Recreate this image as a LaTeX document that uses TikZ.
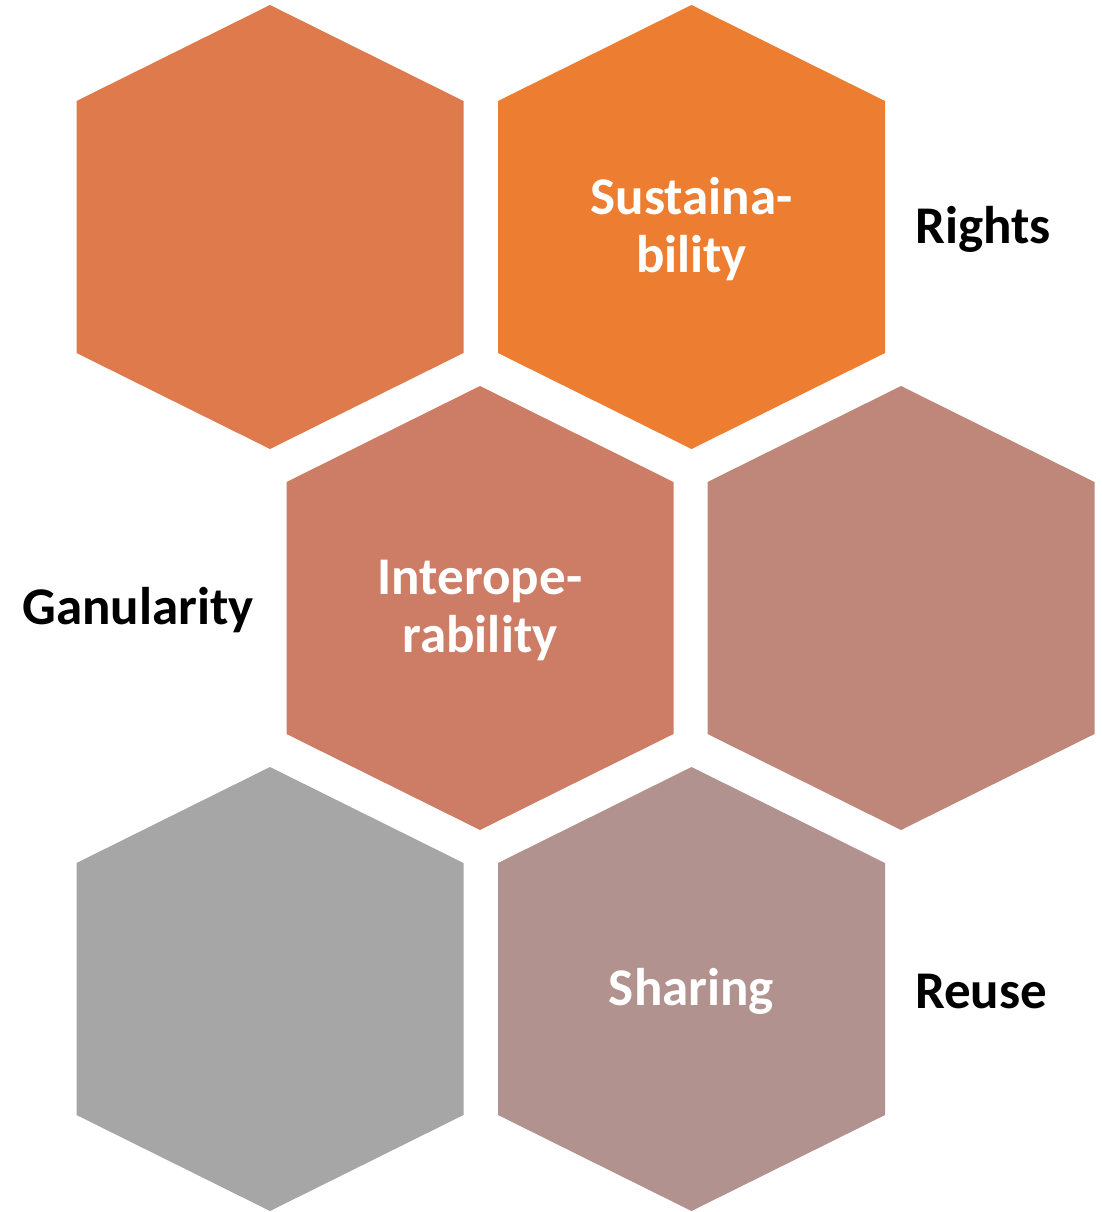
\documentclass[tikz,border=0pt]{standalone}
\usepackage{fontspec}
\setmainfont{Carlito}
\definecolor{hexA}{HTML}{DE7A4B}
\definecolor{hexB}{HTML}{ED7D31}
\definecolor{hexC}{HTML}{CD7D65}
\definecolor{hexD}{HTML}{BE877A}
\definecolor{hexE}{HTML}{A6A6A6}
\definecolor{hexF}{HTML}{B1928F}
\newcommand{\hexcell}[4]{% name, cx, topy, colour
  \fill[#4] (#2,#3) -- (#2+193.5,#3+96) -- (#2+193.5,#3+348) -- (#2,#3+444) -- (#2-193.5,#3+348) -- (#2-193.5,#3+96) -- cycle;
  \coordinate (#1) at (#2,#3+224);
}
\tikzset{
  intxt/.style={text=white, font=\fontsize{53}{58}\selectfont\bfseries, align=center, inner sep=0pt},
  outtxt/.style={text=black, font=\fontsize{53}{58}\selectfont\bfseries, inner sep=0pt}
}
\begin{document}
\begin{tikzpicture}[x=1pt,y=-1pt]
\useasboundingbox (0,0) rectangle (1101,1212);
\hexcell{h1}{270}{5}{hexA}
\hexcell{h2}{691.5}{5}{hexB}
\hexcell{h3}{480}{386}{hexC}
\hexcell{h4}{901}{386}{hexD}
\hexcell{h5}{270}{767}{hexE}
\hexcell{h6}{691.5}{767}{hexF}
\node[intxt] (t2) at (h2) {Sustaina-\\bility};
\node[intxt] (t3) at (h3) {Interope-\\rability};
\node[intxt] (t6) at (h6) {Sharing};
\node[outtxt, anchor=west] (rights) at (915,229) {Rights};
\node[outtxt, anchor=east] (gran) at (254,610) {Ganularity};
\node[outtxt, anchor=west] (reuse) at (915,991) {Reuse};
\end{tikzpicture}
\end{document}
